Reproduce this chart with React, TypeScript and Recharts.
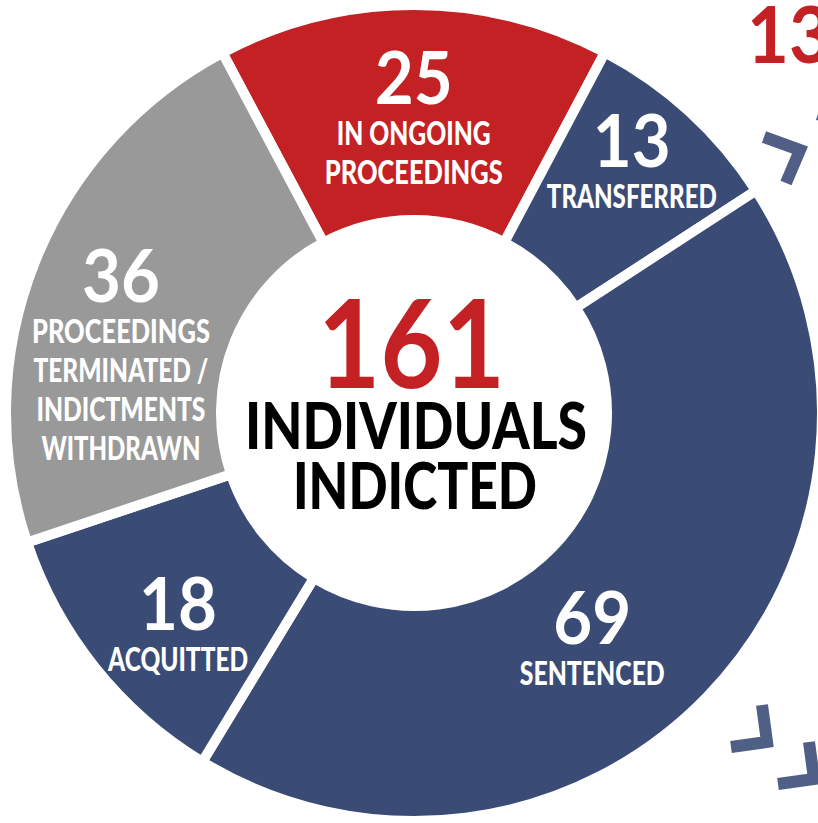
import React from "react";
import { PieChart, Pie, Cell } from "recharts";

// ---- data ----
const categories = [
  "IN ONGOING PROCEEDINGS",
  "TRANSFERRED",
  "SENTENCED",
  "ACQUITTED",
  "PROCEEDINGS TERMINATED / INDICTMENTS WITHDRAWN",
];
const counts = [25, 13, 69, 18, 36];
const labelLines = [
  ["IN ONGOING", "PROCEEDINGS"],
  ["TRANSFERRED"],
  ["SENTENCED"],
  ["ACQUITTED"],
  ["PROCEEDINGS", "TERMINATED /", "INDICTMENTS", "WITHDRAWN"],
];
const centerLines = ["INDIVIDUALS", "INDICTED"];
const cornerNumber = "13";

// ---- style / layout ----
const sliceColors = ["#c32123", "#3a4b75", "#3a4b75", "#3a4b75", "#999999"];
const lineWidths = [[154, 178], [170], [145], [140], [178, 175, 169, 159]];
const labelRadius = [295, 332.5, 287.7, 316.6, 298.7];
const labelAngleShift = [0, 1.5, -7.6, 3.2, 10.6];
const RED = "#c32123";
const CHEVRON = "#4f5f86";

const data = categories.map((c, i) => ({ name: c, value: counts[i] }));
const total = counts.reduce((a, b) => a + b, 0);

const RAD = Math.PI / 180;
const polar = (cx: number, cy: number, r: number, a: number) => [
  cx + r * Math.cos(-a * RAD),
  cy + r * Math.sin(-a * RAD),
];

const NUM_FONT = "Lato, 'DejaVu Sans', sans-serif";
const TXT_FONT = "Lato, Roboto, sans-serif";

const renderLabel = (props: any) => {
  const { cx, cy, midAngle, index, value } = props;
  const [x, y] = polar(cx, cy, labelRadius[index], midAngle + labelAngleShift[index]);
  const lines = labelLines[index];
  const H = 52 + 41 + 39 * (lines.length - 1);
  const nb = y - H / 2 + 52;
  const str = String(value);
  return (
    <g key={`lbl-${index}`}>
      <text
        x={x}
        y={nb}
        textAnchor="middle"
        fill="#fff"
        fontFamily={NUM_FONT}
        fontWeight={700}
        fontSize={73}
        textLength={39 * str.length}
        lengthAdjust="spacingAndGlyphs"
      >
        {str}
      </text>
      {lines.map((l, i) => (
        <text
          key={i}
          x={x}
          y={nb + 41 + 39 * i}
          textAnchor="middle"
          fill="#fff"
          fontFamily={TXT_FONT}
          fontWeight={900}
          fontSize={33}
          textLength={lineWidths[index][i]}
          lengthAdjust="spacingAndGlyphs"
        >
          {l}
        </text>
      ))}
    </g>
  );
};

export default function App() {
  return (
    <div style={{ position: "absolute", left: 0, top: 0, width: 818, height: 823, background: "#fff", overflow: "hidden" }}>
      <PieChart width={818} height={823} margin={{ top: 0, right: 0, bottom: 0, left: 0 }}>
        <Pie
          data={data}
          dataKey="value"
          nameKey="name"
          cx={414}
          cy={413}
          innerRadius={193}
          outerRadius={408}
          startAngle={118}
          endAngle={-242}
          stroke="#fff"
          strokeWidth={10}
          isAnimationActive={false}
          label={renderLabel}
          labelLine={false}
        >
          {data.map((d, i) => (
            <Cell key={d.name} fill={sliceColors[i]} />
          ))}
        </Pie>
      </PieChart>
      <svg
        width={818}
        height={823}
        style={{ position: "absolute", left: 0, top: 0, pointerEvents: "none" }}
      >
        <text
          x={411.5}
          y={388}
          textAnchor="middle"
          fill={RED}
          fontFamily={NUM_FONT}
          fontWeight={700}
          fontSize={123}
          textLength={187}
          lengthAdjust="spacingAndGlyphs"
        >
          {total}
        </text>
        <text x={416} y={449} textAnchor="middle" fill="#000" fontFamily={TXT_FONT} fontWeight={900} fontSize={65} textLength={342} lengthAdjust="spacingAndGlyphs">
          {centerLines[0]}
        </text>
        <text x={415} y={509} textAnchor="middle" fill="#000" fontFamily={TXT_FONT} fontWeight={900} fontSize={65} textLength={244} lengthAdjust="spacingAndGlyphs">
          {centerLines[1]}
        </text>
        <text x={747} y={63} fill={RED} fontFamily={NUM_FONT} fontWeight={700} fontSize={78} textLength={84} lengthAdjust="spacingAndGlyphs">
          {cornerNumber}
        </text>
        <g fill="none" stroke={CHEVRON} strokeWidth={12} strokeLinejoin="miter" strokeLinecap="butt">
          <polyline points="764,137 800,150 786,183" />
          <polyline points="818,114 854,127 840,160" />
          <polyline points="762,705 767,742 731,747" />
          <polyline points="809,742 814,779 778,784" />
        </g>
      </svg>
    </div>
  );
}
